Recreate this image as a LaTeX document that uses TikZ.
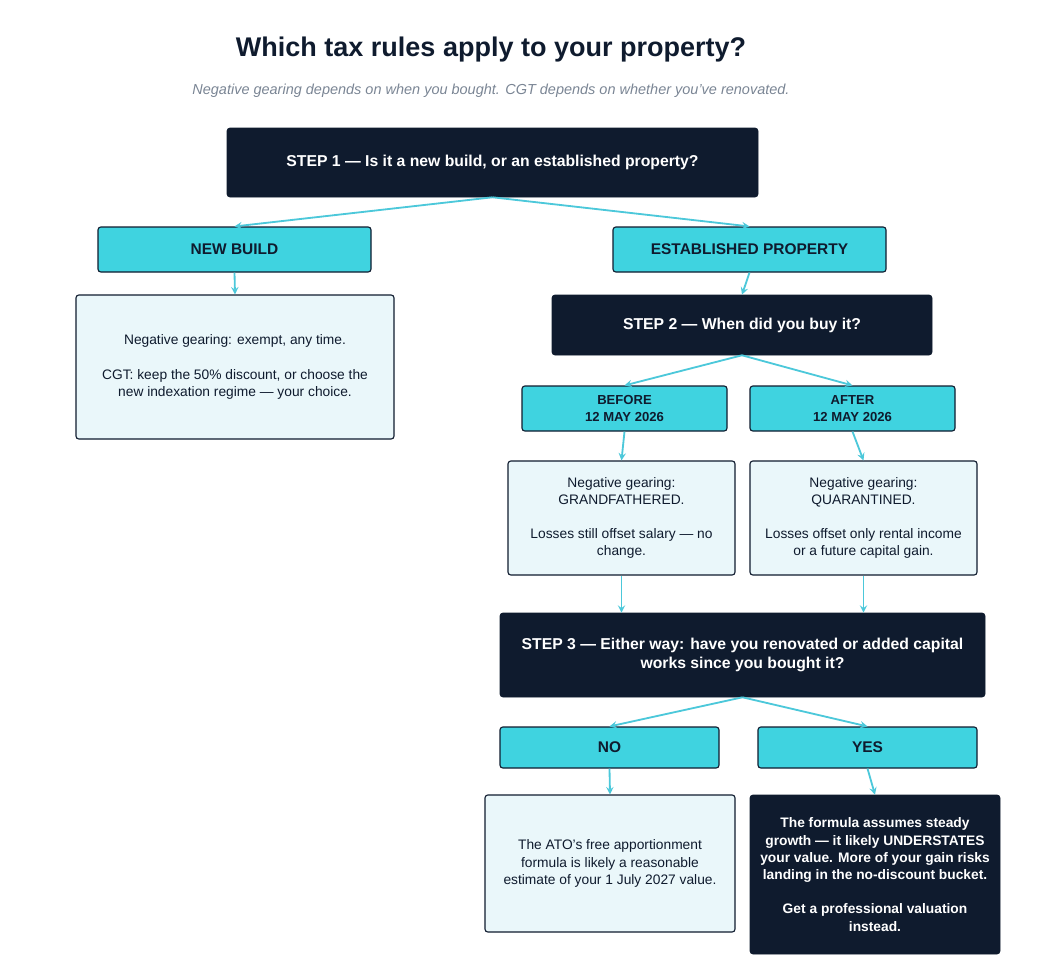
\documentclass[tikz,border=0pt]{standalone}
\usepackage{fontspec}
\setmainfont{Liberation Sans}
\definecolor{navy}{HTML}{0F1B2E}
\definecolor{aqua}{HTML}{3FD3E0}
\definecolor{pale}{HTML}{EAF7FA}
\definecolor{link}{HTML}{4CC8DA}
\definecolor{subgray}{HTML}{7A8594}
\begin{document}
\begin{tikzpicture}[x=0.025cm, y=-0.025cm,
    question/.style={rectangle, draw=navy, fill=navy, text=white, font=\bfseries\fontsize{11.2}{14}\selectfont, align=center, rounded corners=2pt, inner sep=0pt},
    answer/.style={rectangle, draw=navy, fill=aqua, text=navy, font=\bfseries\fontsize{11}{13}\selectfont, align=center, rounded corners=2pt, inner sep=0pt, line width=0.8pt},
    info/.style={rectangle, draw=navy, fill=pale, text=navy, font=\fontsize{9.8}{12.3}\selectfont, align=center, rounded corners=2pt, inner sep=0pt, line width=0.8pt},
    arrow/.style={->, >=stealth, draw=link, line width=1.3pt}
]
    \useasboundingbox (0,0) rectangle (1061,968);

    % Title
    \node[font=\bfseries\fontsize{19.2}{23}\selectfont, text=navy] (title) at (491,50) {Which tax rules apply to your property?};
    \node[font=\itshape\fontsize{10.3}{12}\selectfont, text=subgray] (sub) at (491,91) {Negative gearing depends on when you bought. CGT depends on whether you've renovated.};

    % Step 1
    \node[question, minimum width=531*0.025cm, minimum height=69*0.025cm] (step1) at (492.5,162.5) {STEP 1 --- Is it a new build, or an established property?};
    \node[answer, minimum width=273*0.025cm, minimum height=45*0.025cm] (newb) at (234.5,249.5) {NEW BUILD};
    \node[answer, minimum width=273*0.025cm, minimum height=45*0.025cm] (estab) at (749.5,249.5) {ESTABLISHED PROPERTY};
    \node[info, minimum width=318*0.025cm, minimum height=144*0.025cm] (newinfo) at (235,367) {Negative gearing: exempt, any time.\\[12pt]CGT: keep the 50\% discount, or choose the\\new indexation regime --- your choice.};

    % Step 2
    \node[question, minimum width=380*0.025cm, minimum height=60*0.025cm] (step2) at (742,325) {STEP 2 --- When did you buy it?};
    \node[answer, minimum width=205*0.025cm, minimum height=45*0.025cm, font=\bfseries\fontsize{9.3}{11.5}\selectfont] (before) at (624.5,408.5) {BEFORE\\12 MAY 2026};
    \node[answer, minimum width=205*0.025cm, minimum height=45*0.025cm, font=\bfseries\fontsize{9.3}{11.5}\selectfont] (after) at (852.5,408.5) {AFTER\\12 MAY 2026};
    \node[info, minimum width=227*0.025cm, minimum height=114*0.025cm] (beforeinfo) at (621.5,518) {Negative gearing:\\GRANDFATHERED.\\[12pt]Losses still offset salary --- no\\change.};
    \node[info, minimum width=227*0.025cm, minimum height=114*0.025cm] (afterinfo) at (863.5,518) {Negative gearing:\\QUARANTINED.\\[12pt]Losses offset only rental income\\or a future capital gain.};

    % Step 3
    \node[question, minimum width=485*0.025cm, minimum height=84*0.025cm] (step3) at (742.5,655) {STEP 3 --- Either way: have you renovated or added capital\\works since you bought it?};
    \node[answer, minimum width=219*0.025cm, minimum height=41*0.025cm] (no) at (609.5,747.5) {NO};
    \node[answer, minimum width=219*0.025cm, minimum height=41*0.025cm] (yes) at (867.5,747.5) {YES};
    \node[info, minimum width=250*0.025cm, minimum height=137*0.025cm] (noinfo) at (610,863.5) {The ATO's free apportionment\\formula is likely a reasonable\\estimate of your 1 July 2027 value.};
    \node[question, minimum width=250*0.025cm, minimum height=159*0.025cm, font=\bfseries\fontsize{9.8}{12.3}\selectfont] (yesinfo) at (875,874.5) {The formula assumes steady\\growth --- it likely UNDERSTATES\\your value. More of your gain risks\\landing in the no-discount bucket.\\[12pt]Get a professional valuation\\instead.};

    % Connectors
    \draw[arrow] (step1.south) -- (newb.north);
    \draw[arrow] (step1.south) -- (estab.north);
    \draw[arrow] (newb.south) -- (newinfo.north);
    \draw[arrow] (estab.south) -- (step2.north);
    \draw[arrow] (step2.south) -- (before.north);
    \draw[arrow] (step2.south) -- (after.north);
    \draw[arrow] (before.south) -- (beforeinfo.north);
    \draw[arrow] (after.south) -- (afterinfo.north);
    \draw[arrow] (beforeinfo.south) -- (step3.north -| beforeinfo.south);
    \draw[arrow] (afterinfo.south) -- (step3.north -| afterinfo.south);
    \draw[arrow] (step3.south) -- (no.north);
    \draw[arrow] (step3.south) -- (yes.north);
    \draw[arrow] (no.south) -- (noinfo.north);
    \draw[arrow] (yes.south) -- (yesinfo.north);
\end{tikzpicture}
\end{document}
